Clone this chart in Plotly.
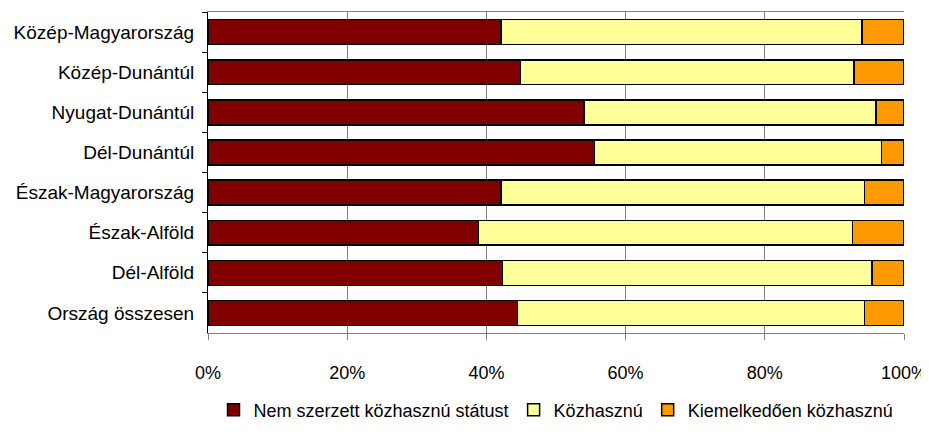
import plotly.graph_objects as go

# régiók, felülről lefelé
regiok = ["Közép-Magyarország", "Közép-Dunántúl", "Nyugat-Dunántúl", "Dél-Dunántúl",
          "Észak-Magyarország", "Észak-Alföld", "Dél-Alföld", "Ország összesen"]

# százalékos megoszlás
nem_szerzett = [42.1, 44.9, 54.0, 55.5, 42.1, 38.9, 42.3, 44.5]
kozhasznu = [51.9, 47.9, 42.0, 41.3, 52.2, 53.7, 53.1, 49.8]
kiemelkedo = [6.0, 7.2, 4.0, 3.2, 5.7, 7.4, 4.6, 5.7]

series = [
    ("Nem szerzett közhasznú státust", nem_szerzett, "#800000"),
    ("Közhasznú", kozhasznu, "#FFFF99"),
    ("Kiemelkedően közhasznú", kiemelkedo, "#FF9900"),
]

font_family = "Liberation Sans, Arial, sans-serif"

fig = go.Figure()
for name, vals, color in series:
    fig.add_trace(go.Bar(
        y=regiok, x=vals, name=name, orientation="h",
        marker=dict(color=color, line=dict(color="black", width=1.5)),
    ))

# a lap 8 px-es margóját levonva
fig.update_layout(
    barmode="stack",
    bargap=0.38,
    width=921, height=424,
    margin=dict(l=200, r=25, t=4, b=92),
    paper_bgcolor="white",
    plot_bgcolor="white",
    font=dict(family=font_family, size=19, color="black"),
    legend=dict(
        orientation="h", x=0.5, xanchor="center",
        y=-0.24, yanchor="middle",
        font=dict(size=18), itemwidth=30, traceorder="normal",
    ),
    xaxis=dict(
        range=[0, 100], tickvals=[0, 20, 40, 60, 80, 100],
        ticktext=["0%", "20%", "40%", "60%", "80%", "100%"],
        tickfont=dict(size=18),
        showgrid=True, gridcolor="#808080", gridwidth=1,
        showline=True, linecolor="#808080", linewidth=1, mirror=True,
        ticks="outside", ticklen=6, tickcolor="#808080",
        ticklabelstandoff=17, zeroline=False, automargin=False,
    ),
    yaxis=dict(
        categoryorder="array", categoryarray=regiok, autorange="reversed",
        showline=True, linecolor="black", linewidth=1,
        ticks="outside", ticklen=5, tickcolor="black", tickson="boundaries",
        showgrid=False, ticklabelstandoff=9, automargin=False,
    ),
)

fig.write_html("out.html")
